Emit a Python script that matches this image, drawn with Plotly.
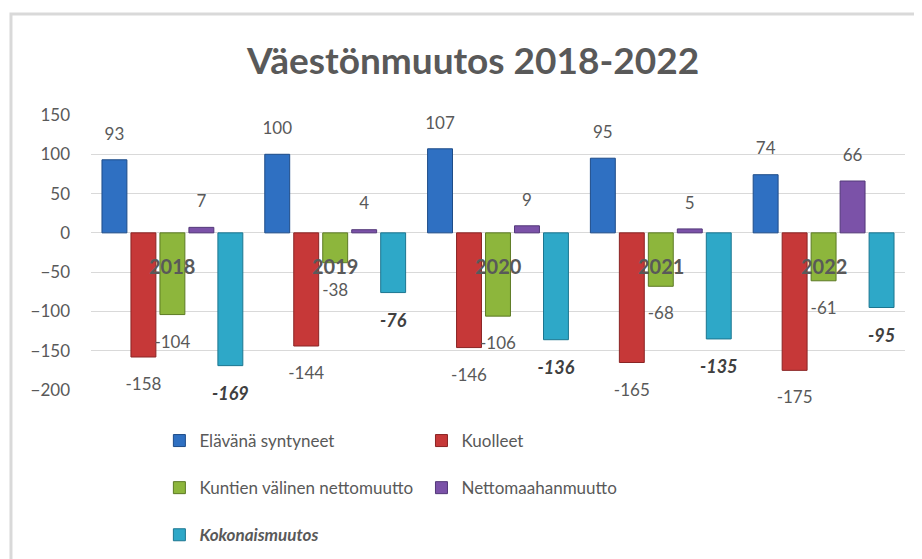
import plotly.graph_objects as go

years = ["2018", "2019", "2020", "2021", "2022"]
series_names = ["Elävänä syntyneet", "Kuolleet", "Kuntien välinen nettomuutto",
                "Nettomaahanmuutto", "Kokonaismuutos"]
syntyneet = [93, 100, 107, 95, 74]
kuolleet = [-158, -144, -146, -165, -175]
kuntien = [-104, -38, -106, -68, -61]
maahanmuutto = [7, 4, 9, 5, 66]
kokonais = [-169, -76, -136, -135, -95]
y_ticks = [-200, -150, -100, -50, 0, 50, 100, 150]

values = [syntyneet, kuolleet, kuntien, maahanmuutto, kokonais]
fills = ["#2F70C2", "#C63838", "#8DB63C", "#7B52A8", "#2EA8C8"]
lines = ["#1E4C88", "#8A2424", "#5C7A24", "#533879", "#1C7690"]
legend_ref = ["legend", "legend2", "legend", "legend2", "legend"]
legend_names = ["Elävänä syntyneet", "Kuolleet", "Kuntien välinen nettomuutto",
                "Nettomaahanmuutto", "<b><i>Kokonaismuutos</i></b>"]

FONT = "Lato, 'Open Sans', sans-serif"
GREY = "#595959"
BARGAP = 0.11
W, H = 914, 551  # page body adds an 8px offset

fig = go.Figure()
for i, (name, vals) in enumerate(zip(series_names, values)):
    fig.add_trace(go.Bar(
        x=years, y=vals, name=legend_names[i],
        marker=dict(color=fills[i], line=dict(color=lines[i], width=1)),
        offsetgroup="g" + str(i), legend=legend_ref[i], legendgroup=str(i),
        hoverinfo="skip",
    ))

for i, vals in enumerate(values):
    last = (i == 4)
    fig.add_trace(go.Scatter(
        x=years, y=vals, mode="markers+text",
        text=[str(v) for v in vals],
        textposition=["top center" if v >= 0 else "bottom center" for v in vals],
        textfont=dict(family=FONT, size=18 if last else 17,
                      color="#404040" if last else GREY,
                      weight="bold" if last else "normal",
                      style="italic" if last else "normal"),
        marker=dict(size=[32 if last else (24 if v >= 0 else 31) for v in vals], opacity=0),
        offsetgroup="g" + str(i), showlegend=False, hoverinfo="skip",
        cliponaxis=False,
    ))

for k, yr in enumerate(years):
    fig.add_annotation(x=k, y=0, yshift=-33, text="<b>" + yr + "</b>",
                       showarrow=False, font=dict(family=FONT, size=20, color=GREY))

fig.add_shape(type="rect", xref="paper", yref="paper",
              x0=-0.0983, x1=1.1, y0=-0.8, y1=1.367,
              line=dict(color="#D9D9D9", width=3), fillcolor="rgba(0,0,0,0)", layer="below")

fig.update_layout(
    width=W, height=H,
    margin=dict(l=83, r=17, t=107, b=169, autoexpand=False),
    paper_bgcolor="white", plot_bgcolor="white",
    barmode="group", bargap=BARGAP, bargroupgap=0.14,
    scattermode="group", scattergap=BARGAP,
    font=dict(family=FONT, size=17, color=GREY),
    title=dict(text="<b>Väestönmuutos 2018-2022</b>", x=465 / W, xref="container",
               y=1 - 53 / H, yref="container", xanchor="center", yanchor="middle",
               font=dict(family=FONT, size=37, color=GREY)),
    xaxis=dict(type="category", range=[-0.5, 4.5], showticklabels=False, showgrid=False,
               zeroline=False, showline=False, ticks=""),
    yaxis=dict(range=[-200, 150], tickvals=y_ticks, showgrid=True, gridcolor="#D9D9D9",
               gridwidth=1, zeroline=True, zerolinecolor="#D9D9D9", zerolinewidth=1,
               showline=False, ticks="", ticklabelstandoff=20,
               tickfont=dict(family=FONT, size=17, color=GREY)),
    legend=dict(orientation="v", x=0.084, y=-0.12, xanchor="left", yanchor="top",
                tracegroupgap=22, traceorder="grouped",
                font=dict(family=FONT, size=17, color=GREY), bgcolor="rgba(0,0,0,0)"),
    legend2=dict(orientation="v", x=0.406, y=-0.12, xanchor="left", yanchor="top",
                 tracegroupgap=22, traceorder="grouped",
                 font=dict(family=FONT, size=17, color=GREY), bgcolor="rgba(0,0,0,0)"),
    showlegend=True,
)

fig.write_html("out.html")
